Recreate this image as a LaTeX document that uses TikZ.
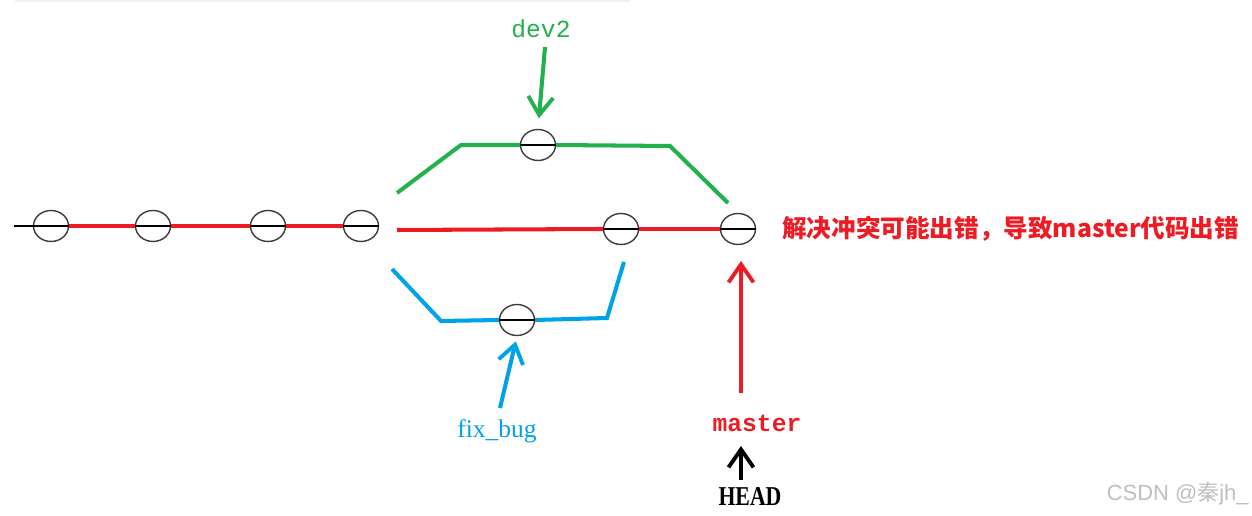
\documentclass[tikz,border=0pt]{standalone}
\usepackage{fontspec}
\setmainfont{Liberation Serif}
\newfontfamily\monof{Liberation Mono}
\newfontfamily\cjkf{Noto Sans CJK SC}
\newfontfamily\sansf{Liberation Sans}
\usetikzlibrary{shapes.geometric,arrows.meta}
\definecolor{pred}{RGB}{237,28,36}
\definecolor{pgreen}{RGB}{34,177,76}
\definecolor{pblue}{RGB}{0,162,232}
\definecolor{pgray}{RGB}{60,60,60}
\tikzset{
  commit/.style={ellipse,draw=pgray,line width=0.8pt,minimum width=0.7cm,minimum height=0.62cm,inner sep=0pt},
  diam/.style={draw=black,line width=0.7pt},
  redl/.style={draw=pred,line width=2.3pt},
  greenl/.style={draw=pgreen,line width=2.3pt},
  bluel/.style={draw=pblue,line width=2.3pt},
  tip/.style={-{Straight Barb[length=0.36cm,width=0.5cm,line width=2.2pt]}},
  lbl/.style={inner sep=0pt,anchor=center}
}
\begin{document}
\begin{tikzpicture}[x=0.02cm,y=-0.02cm]
\useasboundingbox (0,0) rectangle (1252,516);
\fill[black!6] (15,0) rectangle (630,2.5);
% main line commits
\node[commit] (c1) at (51,226) {};
\node[commit] (c2) at (153,226) {};
\node[commit] (c3) at (268,226) {};
\node[commit] (c4) at (361,226) {};
\node[commit] (c5) at (621,229) {};
\node[commit] (c6) at (738,229) {};
\node[commit] (g1) at (538,145) {};
\node[commit] (b1) at (517,320) {};
\foreach \n in {c1,c2,c3,c4,c5,c6,g1,b1} {\draw[diam] (\n.west) -- (\n.east);}
\coordinate (tail) at (14,226);
\draw[diam] (tail) -- (c1.west);
\draw[redl] (c1.east) -- (c2.west);
\draw[redl] (c2.east) -- (c3.west);
\draw[redl] (c3.east) -- (c4.west);
\coordinate (rs) at (397,230);
\draw[redl] (rs) -- (c5.west);
\draw[redl] (c5.east) -- (c6.west);
% green branch
\coordinate (gs) at (397,193);
\coordinate (gk1) at (461,145);
\coordinate (gk2) at (670,146);
\coordinate (ge) at (728,203);
\draw[greenl] (gs) -- (gk1) -- (g1.west);
\draw[greenl] (g1.east) -- (gk2) -- (ge);
% blue branch
\coordinate (bs) at (392,269);
\coordinate (bk1) at (441,321);
\coordinate (bk2) at (607,318);
\coordinate (be) at (624,262);
\draw[bluel] (bs) -- (bk1) -- (b1.west);
\draw[bluel] (b1.east) -- (bk2) -- (be);
% labels
\node[lbl,text=pgreen,font=\monof\fontsize{14}{16}\selectfont] (dev2) at (541,29) {dev2};
\coordinate (ds) at (545,47);
\draw[tip,draw=pgreen,line width=2.3pt,shorten >=6pt] (ds) -- (g1.north);
\node[lbl,text=pblue,font=\fontsize{14.5}{16}\selectfont] (fix) at (497,431) {fix\_bug};
\coordinate (fs) at (500,408);
\draw[tip,draw=pblue,line width=2.3pt,shorten >=3pt] (fs) -- (b1.south);
\node[lbl,text=pred,font=\monof\bfseries\fontsize{14}{16}\selectfont] (master) at (757,423) {master};
\coordinate (ms) at (741,393);
\coordinate (me) at (741,261);
\draw[tip,draw=pred,line width=2.3pt] (ms) -- (me);
\node[lbl,font=\bfseries\fontsize{15.5}{17}\selectfont] (head) at (750,497) {\scalebox{0.8}[1]{HEAD}};
\coordinate (hs) at (741,480);
\coordinate (he) at (741,446);
\draw[tip,draw=black,line width=2.3pt] (hs) -- (he);
\node[lbl,anchor=west,text=pred,font=\cjkf\bfseries\fontsize{14}{16}\selectfont] (note) at (782,229) {解决冲突可能出错，导致master代码出错};
\node[lbl,anchor=east,text=black!25,font=\sansf\fontsize{12.5}{14}\selectfont] (wm) at (1249,494) {CSDN @{\cjkf 秦}jh\_};
\end{tikzpicture}
\end{document}
